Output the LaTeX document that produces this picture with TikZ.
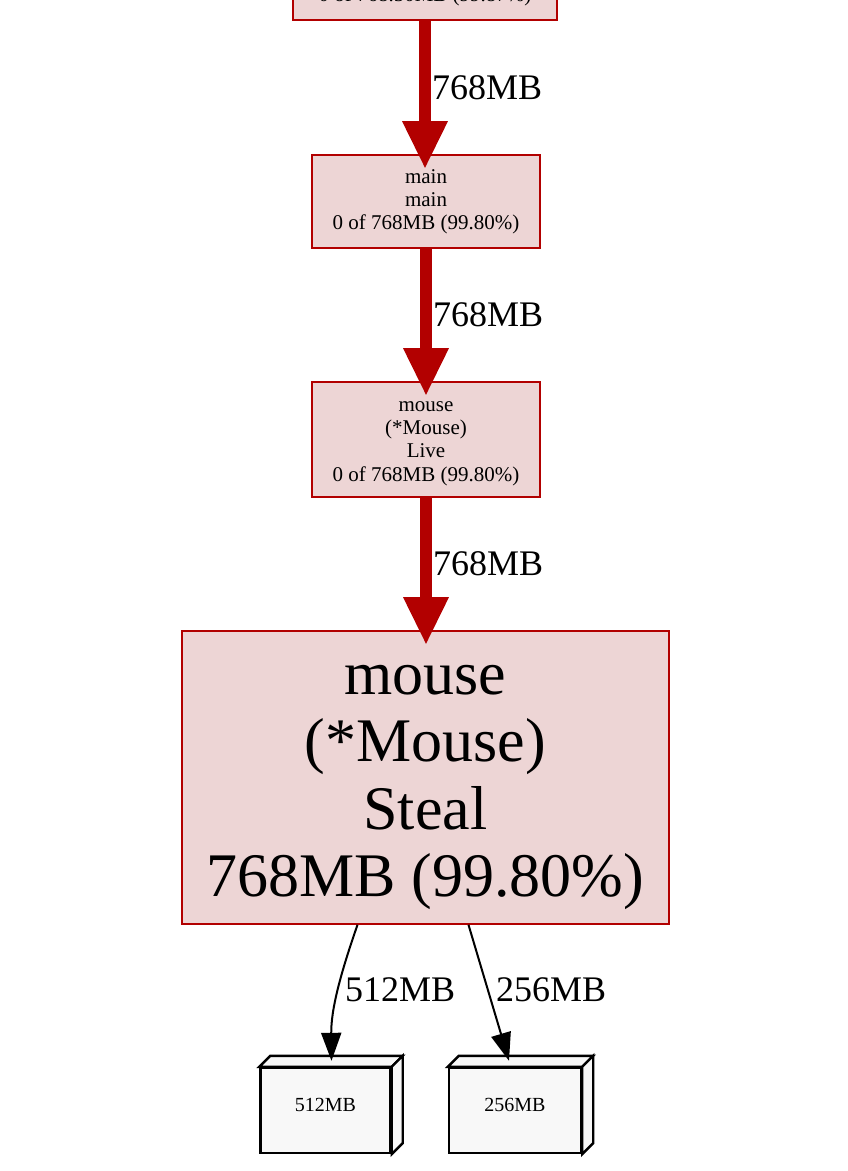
\documentclass[tikz,border=0pt]{standalone}
\usepackage{fontspec}
\setmainfont{Liberation Serif}
\usepackage{xcolor}
\usetikzlibrary{arrows.meta}

\definecolor{hotred}{HTML}{B20000}
\definecolor{hotfill}{HTML}{EDD5D5}
\definecolor{leaffill}{HTML}{F8F8F8}

\tikzset{
  fnbox/.style = {draw=hotred, fill=hotfill, line width=1.6pt, align=center, inner sep=0pt},
  leafbox/.style = {draw=black, fill=leaffill, line width=2.4pt, align=center, inner sep=0pt,
    minimum height=85pt, text depth=12pt, font=\fontsize{20}{23}\selectfont},
  hotedge/.style = {draw=hotred, line width=12pt, -{Triangle[length=48pt,width=42pt]}},
  coldedge/.style = {draw=black, line width=2pt, -{Triangle[length=28pt,width=20pt]}},
  edgelabel/.style = {font=\fontsize{36}{40}\selectfont, inner sep=1pt, anchor=west}
}

\begin{document}
\begin{tikzpicture}[x=1pt, y=-1pt]
  \useasboundingbox (0,0) rectangle (848,1171);
  \clip (0,0) rectangle (848,1171);

  \node[fnbox, minimum width=264pt, minimum height=93pt, font=\fontsize{21}{23}\selectfont] (runtime) at (425,-26.5)
    {runtime\\main\\0 of 768.50MB (99.87\%)};

  \node[fnbox, minimum width=228pt, minimum height=93pt, font=\fontsize{21}{23}\selectfont] (mainfn) at (426,201.5)
    {main\\main\\0 of 768MB (99.80\%)};

  \node[fnbox, minimum width=228pt, minimum height=115pt] (live) at (426,439.5) {};
  \node[align=center, font=\fontsize{21}{23.3}\selectfont] (livetext) at ([yshift=-4pt]live.center)
    {mouse\\(*Mouse)\\Live\\0 of 768MB (99.80\%)};

  \node[fnbox, minimum width=487pt, minimum height=293pt] (steal) at (425.5,777.5) {};
  \node[align=center, font=\fontsize{62}{67.5}\selectfont] (stealtext) at ([yshift=-10pt]steal.center)
    {mouse\\(*Mouse)\\Steal\\768MB (99.80\%)};

  % leaf boxes drawn as 3d boxes
  \node[leafbox, minimum width=130pt] (b512) at (325.5,1110.5) {512MB};
  \node[leafbox, minimum width=132pt] (b256) at (515,1110.5) {256MB};
  \foreach \b in {b512,b256} {
    \draw[line width=2.4pt, fill=leaffill, line join=miter]
      (\b.north west) -- ++(11,-11) -- ([xshift=11pt,yshift=11pt]\b.north east) -- (\b.north east) -- cycle;
    \draw[line width=2.4pt, fill=leaffill, line join=miter]
      (\b.north east) -- ++(11,-11) -- ([xshift=11pt,yshift=11pt]\b.south east) -- (\b.south east) -- cycle;
  }

  \draw[hotedge] (runtime.south) -- ([yshift=-15pt]mainfn.north -| runtime.south)
    node[pos=0.45, edgelabel] {768MB};
  \draw[hotedge] (mainfn.south) -- ([yshift=-15pt]live.north)
    node[pos=0.45, edgelabel] {768MB};
  \draw[hotedge] (live.south) -- ([yshift=-15pt]steal.north -| live.south)
    node[pos=0.45, edgelabel] {768MB};

  \draw[coldedge] ([xshift=-68pt]steal.south) .. controls (340,975) and (331,1010) .. ([xshift=6pt,yshift=6pt]b512.north);
  \node[edgelabel] (l512) at (344,990) {512MB};
  \draw[coldedge] ([xshift=43pt]steal.south) -- ([xshift=-6pt,yshift=6pt]b256.north);
  \node[edgelabel] (l256) at (495,990) {256MB};
\end{tikzpicture}
\end{document}
